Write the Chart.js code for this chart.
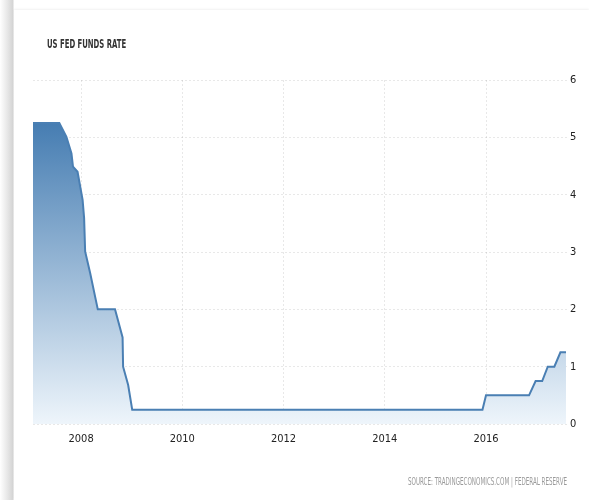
<!DOCTYPE html>
<html>
<head>
<meta charset="utf-8">
<script src="https://cdn.jsdelivr.net/npm/chart.js@4/dist/chart.umd.min.js"></script>
<style>
  html, body { margin: 0; padding: 0; background: #fff; }
  #page { position: relative; width: 589px; height: 500px; overflow: hidden;
          background: linear-gradient(to right, #fff 0px, #d4d4d4 13px, #fff 14px); }
  #card { position: absolute; left: 14px; top: 10px; right: 0; bottom: 0; background: #fff;
          box-shadow: 0 -1px 2px rgba(0,0,0,0.06); }
  #chart { position: absolute; left: 0; top: 0; }
  .txt { position: absolute; white-space: nowrap; transform-origin: 0 0;
         font-family: "DejaVu Sans Condensed", "Liberation Sans Narrow", sans-serif; }
  #title { left: 47px; top: 36px; font-size: 13px; font-weight: bold; color: #333; }
  #source { left: 408px; top: 476px; font-size: 10px; color: #999; }
</style>
</head>
<body>
<div id="page">
  <div id="card"></div>
  <canvas id="chart" width="589" height="500"></canvas>
  <div id="title" class="txt">US FED FUNDS RATE</div>
  <div id="source" class="txt">SOURCE: TRADINGECONOMICS.COM | FEDERAL RESERVE</div>
</div>
<script>
// decimal year and rate (%)
const years = [2007.05, 2007.57, 2007.71, 2007.81, 2007.84, 2007.93, 2008.03, 2008.06, 2008.08,
               2008.18, 2008.33, 2008.67, 2008.82, 2008.83, 2008.93, 2009.01, 2015.93, 2016.0,
               2016.85, 2016.98, 2017.11, 2017.22, 2017.35, 2017.47, 2017.58];
const rates = [5.25, 5.25, 5.01, 4.72, 4.49, 4.40, 3.91, 3.59, 3.01,
               2.63, 2.0, 2.0, 1.51, 1.0, 0.68, 0.25, 0.25, 0.5,
               0.5, 0.75, 0.75, 1.0, 1.0, 1.25, 1.25];
const yearTicks = [2008, 2010, 2012, 2014, 2016];
const rateTicks = [0, 1, 2, 3, 4, 5, 6];

// squeeze the html labels to the narrow width they have in the picture
function squeeze(id, width) {
    const el = document.getElementById(id);
    el.style.transform = 'scaleX(' + (width / el.offsetWidth) + ')';
}
squeeze('title', 79);
squeeze('source', 159);

const points = years.map((x, i) => ({ x: x, y: rates[i] }));
const tickFont = { family: '"DejaVu Sans Condensed", "Liberation Sans Narrow", sans-serif', size: 11 };

const ctx = document.getElementById('chart').getContext('2d');
new Chart(ctx, {
    type: 'line',
    data: {
        datasets: [{
            data: points,
            borderColor: '#4a7fb3',
            borderWidth: 2,
            pointRadius: 0,
            tension: 0,
            fill: 'origin',
            backgroundColor: function(context) {
                const area = context.chart.chartArea;
                if (!area) return 'rgba(74,127,179,0.5)';
                const yScale = context.chart.scales.y;
                const g = context.chart.ctx.createLinearGradient(0, yScale.getPixelForValue(5.25), 0, area.bottom);
                g.addColorStop(0, 'rgba(70,125,178,1)');
                g.addColorStop(1, 'rgba(238,245,251,1)');
                return g;
            }
        }]
    },
    options: {
        responsive: false,
        animation: false,
        layout: { padding: { left: 33, right: 0, top: 80, bottom: 46 } },
        plugins: { legend: { display: false }, tooltip: { enabled: false } },
        scales: {
            x: {
                type: 'linear',
                min: 2007.05,
                max: 2017.6,
                afterBuildTicks: s => { s.ticks = yearTicks.map(v => ({ value: v })); },
                afterFit: s => { s.height = 30; },
                ticks: { font: tickFont, color: '#222', padding: 9, maxRotation: 0,
                         callback: v => String(v) },
                grid: { color: 'rgba(0,0,0,0.09)', drawTicks: false },
                border: { display: false, dash: [2, 2] }
            },
            y: {
                position: 'right',
                min: 0,
                max: 6,
                afterBuildTicks: s => { s.ticks = rateTicks.map(v => ({ value: v })); },
                afterFit: s => { s.width = 22; },
                ticks: { font: tickFont, color: '#222', padding: 3 },
                grid: { color: 'rgba(0,0,0,0.09)', drawTicks: false },
                border: { display: false, dash: [2, 2] }
            }
        }
    }
});
</script>
</body>
</html>
